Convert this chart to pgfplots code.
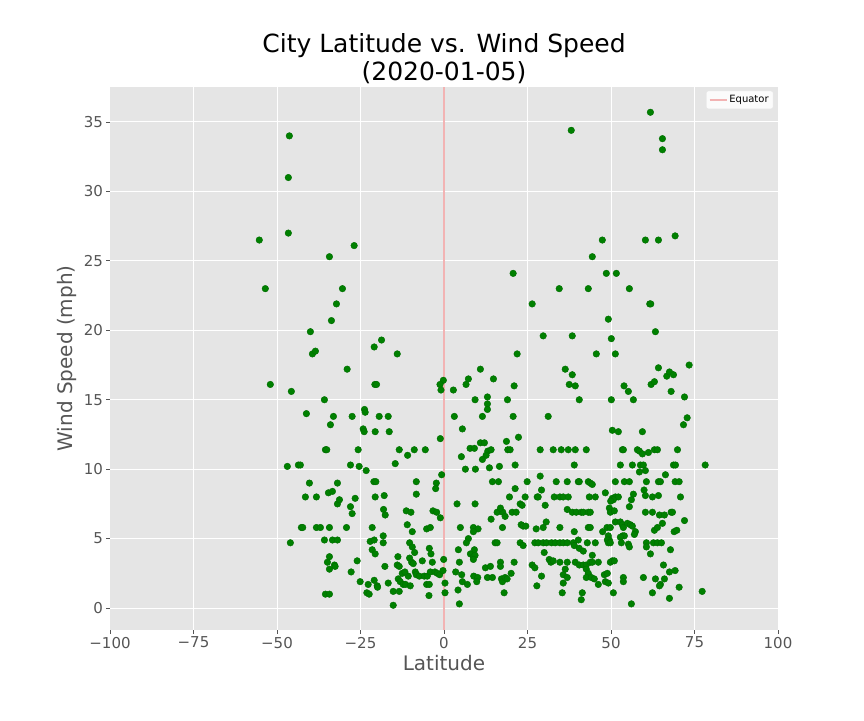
\documentclass[border=0pt]{standalone}
\usepackage{pgfplots}
\pgfplotsset{compat=1.18}
\usepackage{fontspec}
\setmainfont{DejaVu Sans}
\definecolor{bg}{HTML}{E5E5E5}
\definecolor{tk}{HTML}{555555}
\definecolor{ptc}{HTML}{008000}
\definecolor{eq}{HTML}{F2B3B3}
\begin{document}
\begin{tikzpicture}
\useasboundingbox (-110pt,-90pt) rectangle (754pt,630pt);
\begin{axis}[
 at={(0pt,0pt)}, anchor=south west,
 width=668pt, height=543pt, scale only axis,
 xmin=-100, xmax=100, ymin=-1.58, ymax=37.52,
 xtick={-100,-75,-50,-25,0,25,50,75,100},
 xticklabels={−100,−75,−50,−25,0,25,50,75,100},
 ytick={0,5,10,15,20,25,30,35},
 yticklabels={0,5,10,15,20,25,30,35},
 axis background/.style={fill=bg},
 axis line style={draw=none},
 grid=major, major grid style={white, line width=1pt},
 tick pos=left, tick align=outside, major tick length=3.5pt,
 tick style={tk, line width=0.8pt},
 ticklabel style={font=\fontsize{15}{18}\selectfont, text=tk},
 xlabel={Latitude}, ylabel={Wind Speed (mph)},
 label style={font=\fontsize{20}{24}\selectfont, text=tk},
 legend style={at={(rel axis cs:0.993,0.993)}, anchor=north east, font=\fontsize{10}{12}\selectfont, fill=white!85!bg, draw=white!80!gray, rounded corners=2pt, inner sep=2.5pt},
 legend cell align=left,
]
\addplot[eq, line width=1.5pt] coordinates {(0,-1.58) (0,37.52)};
\addlegendentry{Equator}
\addplot[only marks, mark=*, mark size=3.3pt, mark options={fill=ptc, draw=ptc!85!black, line width=0.4pt}, forget plot] table {
x y
-46.3 34
-46.6 31
-46.6 27
-55.3 26.5
61.8 35.7
38.1 34.4
65.4 33.8
65.4 33
69.2 26.8
47.4 26.5
60.3 26.5
64.2 26.5
-26.9 26.1
-34.3 25.3
-53.5 23
-30.4 23
-32.2 21.9
-33.7 20.7
-40 19.9
-39.4 18.3
-38.5 18.5
-20.9 18.8
-18.7 19.3
-14 18.3
20.7 24.1
34.5 23
26.4 21.9
29.7 19.6
21.9 18.3
44.4 25.3
48.6 24.1
51.6 24.1
43.2 23
55.5 23
61.6 21.9
61.9 21.9
49.2 20.8
38.4 19.6
50.1 19.4
63.3 19.9
45.6 18.3
51.3 18.3
73.4 17.5
-29 17.2
-52 16.1
-45.7 15.6
-20.7 16.1
-20.2 16.1
-35.8 15
-41.2 14
-33.1 13.8
-34 13.2
-27.5 13.8
-23.8 14.3
-23.6 14.1
-19.4 13.8
-16.7 13.8
-24.2 12.9
-23.9 12.7
-20.6 12.7
-16.4 12.7
-35.5 11.4
-35.1 11.4
-25.7 11.4
-13.4 11.4
-10.9 11
-46.9 10.2
-43.6 10.3
-43 10.3
-28 10.3
-25.4 10.2
-23.3 9.9
-21 9.1
-20.4 9.1
-14.6 10.4
-40.3 9
-31.9 9
10.9 17.2
7.3 16.5
6.6 16.1
14.8 16.5
-0.2 16.4
-1.2 16.1
-0.9 15.7
2.8 15.7
21 16
9.3 15
13 15.2
13 14.7
13 14.3
19 15
3.1 13.8
11.5 13.8
20.7 13.8
31.2 13.8
5.5 12.9
-1.1 12.2
22.3 12.3
10.9 11.9
12.1 11.9
18.7 12
7.8 11.5
9.1 11.5
13.1 11.3
14.1 11.4
12.6 11
11.5 10.7
5.2 10.9
19.1 11.4
19.8 11.4
28.8 11.4
32.7 11.4
-8.9 11.4
-5.6 11.4
6.4 10
9.4 10
13.6 10.1
16.6 10.2
21.3 10.3
-0.7 9.6
-8.3 9.1
-2.3 9
-2.5 8.6
14.5 9.1
16.3 9.1
24.9 9.1
28.8 9.5
33.6 9.1
21.3 8.6
29.2 8.5
36.3 17.2
38.4 16.8
37.5 16.1
39.3 16
64.2 17.3
66.7 16.7
67.5 17
68.7 16.8
62 16.1
63 16.3
53.9 16
55.2 15.6
68 15.6
72 15.2
40.5 15
50.1 15
56.7 15
72.8 13.7
71.7 13.2
50.4 12.8
52.2 12.7
59.4 12.7
35.1 11.4
37.2 11.4
39.3 11.4
42.6 11.4
53.4 11.4
53.7 11.4
57.9 11.4
58.5 11.3
59.4 11.1
61.2 11.2
63 11.4
63.9 11.4
69.9 11.4
39 10.3
52.8 10.3
56.4 10.3
58.8 10.3
59.7 10.3
60.3 9.9
58.5 9.8
66.3 9.6
68.7 10.3
69.3 10.3
78.2 10.3
36.9 9.1
40.2 9.1
40.5 9.1
43.2 9.1
43.8 9
44.4 8.9
51.3 9.1
54 9.1
55.5 9.1
60.6 9.1
64.2 9.1
64.8 9.1
69.2 9.1
70.4 9.1
59.9 8.5
-41.5 8
-38.2 8
-34.6 8.3
-33.4 8.4
-31.9 7.5
-31.3 7.8
-26.6 7.9
-28 7.3
-27.5 6.8
-20.6 8
-17.9 8.1
-18.1 7.1
-17.6 6.7
-11.3 7
-11 6
-42.7 5.8
-42.3 5.8
-38.2 5.8
-37 5.8
-34.3 5.8
-29.2 5.8
-21.5 5.8
-46 4.7
-35.8 4.9
-33.4 4.9
-31.9 4.9
-22.1 4.8
-20.9 4.9
-18.2 5.2
-18.2 4.7
-21.5 4.2
-20.6 3.9
-13.8 3.7
-17.7 3
-14 3.1
-13.4 3
-12.5 2.5
-34.3 3.7
-34.9 3.3
-32.8 3.1
-32.6 3
-34.3 2.8
-26 3.4
-27.8 2.6
-25.1 1.9
-22.7 1.7
-20.9 2
-20 1.6
-19.9 1.5
-16.7 1.8
-13.7 2.1
-13.1 1.9
-12.2 1.7
-11.5 1.7
-15.2 1.2
-13.4 1.2
-23.1 1.1
-22.4 1
-15.2 0.2
-35.5 1
-34.3 1
-8.3 8.2
3.9 7.5
9.3 7.5
19.6 8
24.3 8
27.9 8
28.2 8
33 8
30.3 7.4
15.9 6.9
17.6 6.9
18.3 6.6
16.9 7.2
20.4 6.9
21.6 6.9
22.8 7.5
23.4 7.4
14.1 6.4
-9.9 6.9
-3.3 7
-2.2 6.9
-1.1 6.5
-9.5 5.5
-5.2 5.7
-4.1 5.8
4.9 5.8
8.8 5.8
10.2 5.7
8.8 5.5
17.5 5.8
23.1 6
23.7 5.9
24.5 5.9
27.6 5.7
29.7 5.8
30.6 6.2
7.3 5
6.7 4.7
4.3 4.2
9.1 4.2
7.9 3.9
8.8 3.7
9.3 3.8
15.3 4.7
15.9 4.7
22.8 4.7
23.7 4.5
27.2 4.7
28.2 4.7
29.7 4.7
30.7 4.7
32.2 4.7
33.3 4.7
30 4
-10.3 4.7
-9.5 4.4
-8.8 4
-4.4 4.3
-3.9 3.9
-10.3 3.6
-9.7 3.3
-9.2 3.2
-6.5 3.4
-3.5 3.3
-0.1 3.5
4.6 3.3
8.8 3.5
12.4 2.9
13.9 3
16.9 3.3
16.9 3
21 3.3
26.4 3.1
27.2 2.9
31.5 3.5
32 3.3
32.7 3.4
-10.7 2.3
-11.7 2.6
-8.6 2.6
-8.3 2.4
-7.4 2.3
-5.9 2.3
-5 2.3
-4.1 2.6
-2.7 2.6
-2 2.5
-1.3 2.4
-0.3 2.7
0.3 1.8
0.3 1.1
3.5 2.6
5.3 2.4
5.5 1.9
7 1.7
8.9 2.3
10.1 2.2
9.8 1.9
13 2.2
14.5 2.2
17.2 2.1
17.5 1.9
18.3 2.2
18.9 2.1
20.1 2.5
-10.1 1.6
-5.2 1.7
-4.4 1.7
-4.5 0.9
4.2 1.3
4.6 0.3
18 1.1
27.8 1.6
29.2 2.3
48.3 8.3
60.3 8.1
56.7 8.2
34.7 8
35.7 8
37.2 8
43.5 8
45.3 8
50.4 7.9
51.3 8
52.2 8
50.7 7.8
49.9 7.7
56.1 7.8
62.4 8
64.2 8.1
70.8 8
55.5 7.3
36.9 7.1
38.4 6.9
39.6 6.9
41.1 6.9
41.7 6.9
43.2 6.9
43.8 6.9
49.5 7.2
49.8 6.9
51 7
60.3 6.9
62.4 6.9
64.5 6.7
66 6.7
68 6.9
68.4 6.9
72 6.3
65.4 6.1
51.3 6.2
52.8 6.2
53.4 6
53.7 5.8
54.9 6.1
55.8 6
56.4 5.9
57.3 5.5
57 5.3
48.8 5.8
49.8 5.8
43.2 5.8
43.8 5.8
34.7 5.8
39 5.5
47.5 5.5
49.2 5.2
49.5 4.9
48.9 4.9
53.5 5.2
54 5.2
52.8 5.1
63 5.6
63.9 5.8
68.9 5.5
69.7 5.6
40.2 4.9
34.7 4.7
35.7 4.7
36.9 4.7
38.7 4.7
39 4.5
42.9 4.7
45.3 4.7
49.2 4.7
49.8 4.7
53.1 4.7
55.2 4.6
55.5 4.4
60.6 4.7
60.6 4.4
62.7 4.7
63.9 4.7
65.1 4.7
61.8 3.9
67.8 4.2
40.5 4.3
41.7 4.1
44.4 3.8
34.7 3.3
36.9 3.3
39.3 3.3
40.5 3.1
41.7 3.1
42.6 3.1
43.8 3.3
44.4 3.3
46.2 3.3
42.6 2.8
43.2 2.5
42.6 2.2
44.1 2.2
45 2.1
46.2 1.7
36.3 2.8
35.7 2.4
36.9 2.2
35.7 1.8
35.4 1.1
41.4 1.1
41.1 0.6
48 2.4
48.9 2.5
48.3 1.9
49.2 1.8
49.8 3.3
50.4 3.4
51 3.4
50.7 1.1
53.7 2.2
53.7 1.9
56.1 0.3
59.7 2.2
63.3 2.1
64.8 1.7
64.5 1.6
66 2.1
65.7 3.1
67.5 2.6
69.2 2.7
62.4 1.1
67.5 0.7
70.4 1.5
77.3 1.2
};
\end{axis}
\node[font=\fontsize{25}{28}\selectfont, align=center, anchor=center] at (334pt,571pt) {City Latitude vs. Wind Speed\\(2020-01-05)};
\end{tikzpicture}
\end{document}
